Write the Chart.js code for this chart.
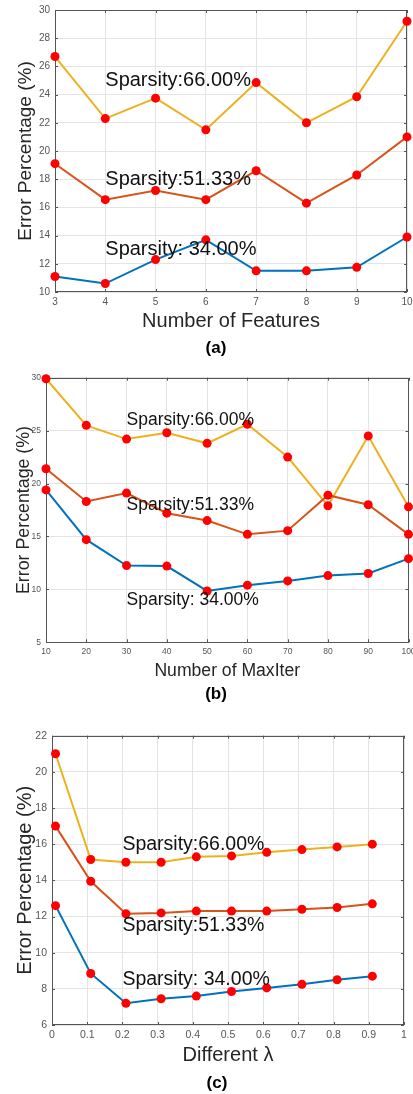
<!DOCTYPE html>
<html>
<head>
<meta charset="utf-8">
<script src="https://cdn.jsdelivr.net/npm/chart.js@4/dist/chart.umd.min.js"></script>
<style>
  body { margin: 0; background: #fff; }
  #page { position: relative; width: 413px; height: 1094px; overflow: hidden; font-family: "Liberation Sans", Arial, sans-serif; }
  canvas { position: absolute; left: 0; }
  .cap { position: absolute; transform: translateX(-50%); font-weight: bold; font-size: 17px; line-height: 20px; color: #000; }
</style>
</head>
<body>
<div id="page">
  <canvas id="chartA" width="413" height="340" style="top:0px"></canvas>
  <canvas id="chartB" width="413" height="330" style="top:360px"></canvas>
  <canvas id="chartC" width="413" height="350" style="top:720px"></canvas>
  <div class="cap" style="left:216px; top:338px">(a)</div>
  <div class="cap" style="left:216px; top:684px">(b)</div>
  <div class="cap" style="left:217px; top:1073px">(c)</div>
</div>
<script>
// (a) number of features
const featX = [3, 4, 5, 6, 7, 8, 9, 10];
const featBlue = [11.1, 10.6, 12.3, 13.7, 11.5, 11.5, 11.75, 13.9];
const featOrange = [19.1, 16.55, 17.2, 16.55, 18.6, 16.3, 18.3, 21.0];
const featYellow = [26.7, 22.3, 23.75, 21.5, 24.85, 22.0, 23.85, 29.2];

// (b) number of MaxIter
const iterX = [10, 20, 30, 40, 50, 60, 70, 80, 90, 100];
const iterBlue = [19.4, 14.7, 12.25, 12.2, 9.85, 10.4, 10.8, 11.3, 11.5, 12.9];
const iterOrange = [21.4, 18.3, 19.1, 17.2, 16.5, 15.2, 15.55, 18.9, 18.0, 15.2];
const iterYellow = [29.9, 25.5, 24.2, 24.8, 23.8, 25.6, 22.5, 17.9, 24.5, 17.8];

// (c) different lambda
const lamX = [0.01, 0.11, 0.21, 0.31, 0.41, 0.51, 0.61, 0.71, 0.81, 0.91];
const lamBlue = [12.6, 8.85, 7.2, 7.45, 7.6, 7.85, 8.05, 8.25, 8.5, 8.7];
const lamOrange = [17.0, 13.95, 12.15, 12.2, 12.3, 12.3, 12.3, 12.4, 12.5, 12.7];
const lamYellow = [21.0, 15.15, 15.0, 15.0, 15.3, 15.35, 15.55, 15.7, 15.85, 16.0];

const seriesNames = ['Sparsity: 34.00%', 'Sparsity:51.33%', 'Sparsity:66.00%'];
// text anchors in data units (left / middle, like matlab text())
const notesA = [[4, 13], [4, 18], [4, 25]];
const notesB = [[30, 9], [30, 18], [30, 26]];
const notesC = [[0.2, 8.5], [0.2, 11.5], [0.2, 16]];

const colors = ['#0072BD', '#D95319', '#EDB120'];
const FONT = '"Liberation Sans", Arial, sans-serif';

const boxPlugin = {
  id: 'box',
  beforeDatasetsDraw(chart) {
    const { ctx, chartArea: a, scales: { x, y } } = chart;
    ctx.save();
    ctx.strokeStyle = '#555';
    ctx.lineWidth = 1;
    ctx.strokeRect(Math.round(a.left) + 0.5, Math.round(a.top) + 0.5,
      Math.round(a.right - a.left) - 1, Math.round(a.bottom - a.top) - 1);
    ctx.beginPath();
    x.ticks.forEach(t => {
      const px = Math.round(x.getPixelForValue(t.value)) + 0.5;
      ctx.moveTo(px, a.bottom); ctx.lineTo(px, a.bottom - 3);
      ctx.moveTo(px, a.top); ctx.lineTo(px, a.top + 3);
    });
    y.ticks.forEach(t => {
      const py = Math.round(y.getPixelForValue(t.value)) + 0.5;
      ctx.moveTo(a.left, py); ctx.lineTo(a.left + 3, py);
      ctx.moveTo(a.right, py); ctx.lineTo(a.right - 3, py);
    });
    ctx.stroke();
    ctx.restore();
  },
  afterDatasetsDraw(chart, args, opts) {
    const { ctx, scales: { x, y } } = chart;
    ctx.save();
    ctx.fillStyle = '#111';
    ctx.font = opts.size + 'px ' + FONT;
    ctx.textAlign = 'left';
    ctx.textBaseline = 'middle';
    opts.notes.forEach((n, i) => {
      ctx.fillText(seriesNames[i], x.getPixelForValue(n[0]), y.getPixelForValue(n[1]));
    });
    ctx.restore();
  }
};

function makeChart(id, cfg) {
  const sets = [cfg.blue, cfg.orange, cfg.yellow].map((vals, i) => ({
    label: seriesNames[i],
    data: cfg.xs.map((v, j) => ({ x: v, y: vals[j] })),
    borderColor: colors[i],
    borderWidth: 2,
    pointRadius: 4.5,
    pointBackgroundColor: '#ff0000',
    pointBorderColor: '#ff0000',
    pointBorderWidth: 0,
    tension: 0,
    clip: false
  }));
  return new Chart(document.getElementById(id), {
    type: 'line',
    data: { datasets: sets },
    options: {
      responsive: false,
      animation: false,
      devicePixelRatio: 1,
      layout: { padding: cfg.pad },
      plugins: {
        legend: { display: false },
        tooltip: { enabled: false },
        box: { notes: cfg.notes, size: cfg.noteSize }
      },
      scales: {
        x: {
          type: 'linear',
          min: cfg.xMin, max: cfg.xMax,
          ticks: {
            stepSize: cfg.xStep, padding: 4, color: '#555', maxRotation: 0, autoSkip: false,
            font: { family: FONT, size: cfg.tickSize },
            callback: v => String(Math.round(v * 10) / 10)
          },
          grid: { color: '#e4e4e4', drawTicks: false, tickLength: 0 },
          border: { display: false },
          title: {
            display: true, text: cfg.xTitle, color: '#262626',
            font: { family: FONT, size: cfg.xTitleSize },
            padding: { top: 0, bottom: cfg.xTitlePad }
          },
          afterFit: s => { s.height = cfg.xHeight; s.paddingLeft = 0; s.paddingRight = 0; }
        },
        y: {
          min: cfg.yMin, max: cfg.yMax,
          ticks: {
            stepSize: cfg.yStep, padding: 5, color: '#555',
            font: { family: FONT, size: cfg.tickSize }
          },
          grid: { color: '#e4e4e4', drawTicks: false, tickLength: 0 },
          border: { display: false },
          title: {
            display: true, text: 'Error Percentage (%)', color: '#262626',
            font: { family: FONT, size: cfg.yTitleSize },
            padding: { top: cfg.yTitlePad, bottom: 0 }
          },
          afterFit: s => { s.width = cfg.yWidth; s.paddingTop = 0; s.paddingBottom = 0; }
        }
      }
    },
    plugins: [boxPlugin]
  });
}

makeChart('chartA', {
  xs: featX, blue: featBlue, orange: featOrange, yellow: featYellow,
  xMin: 3, xMax: 10, xStep: 1, yMin: 10, yMax: 30, yStep: 2,
  pad: { top: 10, right: 6, bottom: 0, left: 0 },
  yWidth: 55, xHeight: 48, tickSize: 10,
  xTitle: 'Number of Features', xTitleSize: 20, xTitlePad: 6.3,
  yTitleSize: 19, yTitlePad: 14.6,
  notes: notesA, noteSize: 20
});

makeChart('chartB', {
  xs: iterX, blue: iterBlue, orange: iterOrange, yellow: iterYellow,
  xMin: 10, xMax: 100, xStep: 10, yMin: 5, yMax: 30, yStep: 5,
  pad: { top: 17.7, right: 4, bottom: 0, left: 0 },
  yWidth: 46, xHeight: 47.7, tickSize: 8.5,
  xTitle: 'Number of MaxIter', xTitleSize: 17.6, xTitlePad: 8.7,
  yTitleSize: 17.8, yTitlePad: 13,
  notes: notesB, noteSize: 17.5
});

makeChart('chartC', {
  xs: lamX, blue: lamBlue, orange: lamOrange, yellow: lamYellow,
  xMin: 0, xMax: 1, xStep: 0.1, yMin: 6, yMax: 22, yStep: 2,
  pad: { top: 15.7, right: 9, bottom: 0, left: 0 },
  yWidth: 52, xHeight: 45, tickSize: 10.5,
  xTitle: 'Different λ', xTitleSize: 20, xTitlePad: 3,
  yTitleSize: 20, yTitlePad: 13,
  notes: notesC, noteSize: 19.5
});
</script>
</body>
</html>
